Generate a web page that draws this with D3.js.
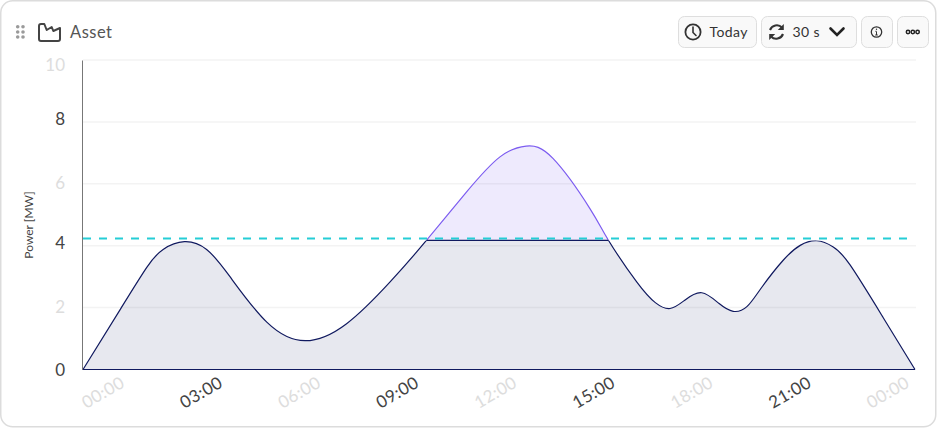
<!DOCTYPE html>
<html>
<head>
<meta charset="utf-8">
<style>
  html, body { margin: 0; padding: 0; background: #fff; }
  svg { display: block; font-family: Lato, "Open Sans", sans-serif; }
</style>
<script src="https://cdn.jsdelivr.net/npm/d3@7"></script>
</head>
<body>
<svg id="chart" width="937" height="428"></svg>
<script>
// hours since midnight
var hours = [0, 1.15, 1.95, 2.45, 3.1, 3.78, 4.5, 5.62, 6.79, 8.06, 9.39,
    10.5, 11.73, 12.75, 13.55, 14.37, 15.5, 16.07,
    16.93, 17.5, 17.95, 18.4, 18.92, 19.45, 19.88, 20.3, 20.75, 21.41, 21.93, 22.44, 22.94, 23.46, 24.46, 25.44];
var power = [0, 1.96, 3.3, 3.88, 4.13, 3.88, 2.99, 1.53, 0.93, 1.48, 2.83,
    4.17, 5.74, 6.87, 7.22, 6.82, 5.2, 4.17,
    2.83, 2.16, 1.97, 2.24, 2.48, 2.13, 1.88, 2.03, 2.65, 3.53, 4.01, 4.16, 3.96, 3.37, 1.69, 0];
var capLevel = 4.17;
var capFrom = 10.5;
var capTo = 16.07;
var limitLevel = 4.23;

var xTickHours = [0, 3, 6, 9, 12, 15, 18, 21, 24];
var xTickLabels = ["00:00", "03:00", "06:00", "09:00", "12:00", "15:00", "18:00", "21:00", "00:00"];
var yTicks = [0, 2, 4, 6, 8, 10];

var points = hours.map(function (h, i) { return {h: h, v: power[i]}; });

var svg = d3.select("#chart");
var plot = {left: 83, right: 915, top: 60, bottom: 369.5};

var x = d3.scaleLinear().domain([0, 25.44]).range([plot.left, plot.right]);
var y = d3.scaleLinear().domain([0, 10]).range([plot.bottom, plot.top]);

// card
svg.append("rect").attr("x", 0.75).attr("y", 0.75).attr("width", 935).attr("height", 426)
    .attr("rx", 12).attr("fill", "#fff").attr("stroke", "#dcdcdc").attr("stroke-width", 1.5);

// grid
svg.append("g").selectAll("line").data(yTicks.slice(1)).enter().append("line")
    .attr("x1", plot.left).attr("x2", plot.right + 1)
    .attr("y1", function (d) { return y(d); }).attr("y2", function (d) { return y(d); })
    .attr("stroke", "#f3f3f3").attr("stroke-width", 1.5);

// same curve is split at the cap level with two clips
var defs = svg.append("defs");
defs.append("clipPath").attr("id", "below").append("rect")
    .attr("x", 0).attr("width", 937).attr("y", y(capLevel)).attr("height", 428 - y(capLevel));
defs.append("clipPath").attr("id", "above").append("rect")
    .attr("x", x(capFrom)).attr("width", x(capTo) - x(capFrom)).attr("y", 0).attr("height", y(capLevel));

var curve = d3.curveNatural;
var area = d3.area().curve(curve)
    .x(function (d) { return x(d.h); })
    .y0(y(0))
    .y1(function (d) { return y(d.v); });
var line = d3.line().curve(curve)
    .x(function (d) { return x(d.h); })
    .y(function (d) { return y(d.v); });

var over = svg.append("g").attr("clip-path", "url(#above)");
over.append("path").datum(points).attr("d", area).attr("fill", "#7c5cf0").attr("fill-opacity", 0.13);
over.append("path").datum(points).attr("d", line).attr("fill", "none").attr("stroke", "#7c5cf0").attr("stroke-width", 1.2);

var base = svg.append("g").attr("clip-path", "url(#below)");
base.append("path").datum(points).attr("d", area).attr("fill", "#10195f").attr("fill-opacity", 0.1);
base.append("path").datum(points).attr("d", line).attr("fill", "none").attr("stroke", "#10195f").attr("stroke-width", 1.2);

// flat top of the capped part and the base line
svg.append("line").attr("x1", x(capFrom)).attr("x2", x(capTo))
    .attr("y1", y(capLevel)).attr("y2", y(capLevel))
    .attr("stroke", "#10195f").attr("stroke-width", 1.2);
svg.append("line").attr("x1", plot.left).attr("x2", plot.right)
    .attr("y1", y(0)).attr("y2", y(0))
    .attr("stroke", "#10195f").attr("stroke-width", 1.2);

// limit
svg.append("line").attr("x1", plot.left).attr("x2", plot.right)
    .attr("y1", y(limitLevel)).attr("y2", y(limitLevel))
    .attr("stroke", "#25cdd6").attr("stroke-width", 2).attr("stroke-dasharray", "8,8");

// y axis
var yLabelShift = {0: 0, 2: -1, 4: -3, 6: -1, 8: -3, 10: 4};
var yAxis = svg.append("g")
    .attr("transform", "translate(82,0)")
    .call(d3.axisLeft(y).tickValues(yTicks).tickSize(0).tickPadding(17));
yAxis.select(".domain").attr("stroke", "#777").attr("stroke-width", 1);
yAxis.selectAll("text")
    .attr("font-family", "Lato, sans-serif")
    .attr("font-size", 17)
    .attr("dy", function (d) { return yLabelShift[d] + 6; })
    .attr("fill", function (d) { return d % 4 === 0 ? "#444" : "#ddd"; });

svg.append("text")
    .attr("transform", "translate(33,225) rotate(-90)")
    .attr("text-anchor", "middle")
    .attr("font-size", 12).attr("fill", "#444")
    .text("Power [MW]");

// x axis
var xAxis = svg.append("g")
    .attr("transform", "translate(0," + plot.bottom + ")")
    .call(d3.axisBottom(x).tickValues(xTickHours).tickSize(0)
        .tickFormat(function (d, i) { return xTickLabels[i]; }));
xAxis.select(".domain").remove();
xAxis.selectAll("text")
    .attr("font-family", "Lato, sans-serif")
    .attr("font-size", 17)
    .attr("letter-spacing", 0.4)
    .attr("text-anchor", "middle")
    .attr("y", 0).attr("dy", 0)
    .attr("transform", "translate(22.5,28) rotate(-30)")
    .attr("fill", function (d, i) { return i % 2 ? "#444" : "#ddd"; });

// header
var dark = "#333";
var handle = svg.append("g").attr("fill", "#9a9a9a");
[17.7, 23].forEach(function (cx) {
    [26.7, 32, 37].forEach(function (cy) {
        handle.append("circle").attr("cx", cx).attr("cy", cy).attr("r", 1.8);
    });
});
svg.append("path")
    .attr("d", "M39,26 Q39,24 41,24 L44.3,24 L46.7,30 L51.7,27 L53.3,31 L60,28 L60,39 Q60,41 58,41 L41,41 Q39,41 39,39 Z")
    .attr("fill", "none").attr("stroke", "#444").attr("stroke-width", 2).attr("stroke-linejoin", "round");
svg.append("text").attr("x", 70).attr("y", 38).attr("font-size", 16.5).attr("fill", "#555")
    .attr("letter-spacing", 0.5).text("Asset");

// buttons
var buttons = [[678, 78], [761, 95], [861, 31], [897, 31]];
svg.append("g").selectAll("rect").data(buttons).enter().append("rect")
    .attr("x", function (d) { return d[0] + 0.5; }).attr("y", 16.5)
    .attr("width", function (d) { return d[1]; }).attr("height", 31).attr("rx", 6)
    .attr("fill", "#f9f9f9").attr("stroke", "#dedede");

// clock
svg.append("circle").attr("cx", 693).attr("cy", 32).attr("r", 7.6)
    .attr("fill", "none").attr("stroke", dark).attr("stroke-width", 1.8);
svg.append("path").attr("d", "M693,27 L693,32.5 L696,35.5")
    .attr("fill", "none").attr("stroke", dark).attr("stroke-width", 1.6).attr("stroke-linecap", "round");
svg.append("text").attr("x", 709.5).attr("y", 37).attr("font-size", 14).attr("fill", dark)
    .attr("letter-spacing", 0.4).text("Today");

// refresh
svg.append("path")
    .attr("d", "M770,30 A7.3,7.3 0 0 1 782,27.5 M783,34 A7.3,7.3 0 0 1 771,36.5")
    .attr("fill", "none").attr("stroke", dark).attr("stroke-width", 2.1);
svg.append("path").attr("d", "M783.8,24 L783.8,30 L777.8,30 Z M769.2,40 L769.2,34 L775.2,34 Z").attr("fill", dark);
svg.append("text").attr("x", 792.5).attr("y", 37).attr("font-size", 14).attr("fill", dark)
    .attr("letter-spacing", 0.4).text("30 s");
svg.append("path").attr("d", "M830.5,28.5 L837,35 L843.5,28.5")
    .attr("fill", "none").attr("stroke", "#222").attr("stroke-width", 2.6).attr("stroke-linecap", "round");

// info
svg.append("circle").attr("cx", 876.5).attr("cy", 32).attr("r", 5.2)
    .attr("fill", "none").attr("stroke", dark).attr("stroke-width", 1.3);
svg.append("path").attr("d", "M876.5,31.5 L876.5,35 M875.2,35 L877.8,35 M875.4,31.3 L876.5,31.3")
    .attr("fill", "none").attr("stroke", dark).attr("stroke-width", 1);
svg.append("circle").attr("cx", 876.5).attr("cy", 29.3).attr("r", 0.7).attr("fill", dark);

// more
[908, 912.8, 917.6].forEach(function (cx) {
    svg.append("circle").attr("cx", cx).attr("cy", 32).attr("r", 1.7)
        .attr("fill", "none").attr("stroke", "#222").attr("stroke-width", 1.5);
});
</script>
</body>
</html>
